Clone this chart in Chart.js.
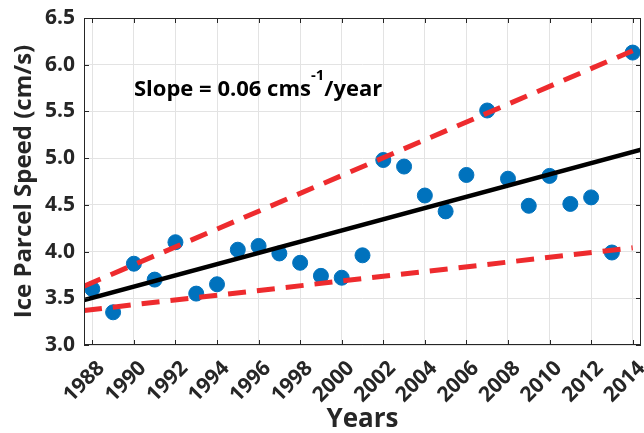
<!DOCTYPE html>
<html>
<head>
<meta charset="utf-8">
<script src="https://cdn.jsdelivr.net/npm/chart.js@4.4.1/dist/chart.umd.min.js"></script>
<style>
  html, body { margin: 0; padding: 0; background: #fff; }
  #wrap { width: 644px; height: 433px; }
</style>
</head>
<body>
<div id="wrap"><canvas id="speedChart" width="644" height="433"></canvas></div>
<script>
  // yearly mean ice parcel speed
  const years = [1988, 1989, 1990, 1991, 1992, 1993, 1994, 1995, 1996, 1997, 1998, 1999, 2000, 2001,
                 2002, 2003, 2004, 2005, 2006, 2007, 2008, 2009, 2010, 2011, 2012, 2013, 2014];
  const speed = [3.60, 3.35, 3.87, 3.70, 4.10, 3.55, 3.65, 4.02, 4.06, 3.98, 3.88, 3.74, 3.72, 3.96,
                 4.98, 4.91, 4.60, 4.43, 4.82, 5.51, 4.78, 4.49, 4.81, 4.51, 4.58, 3.99, 6.13];

  // fitted trend and the two bounding lines (end points)
  const trendX = [1987.6, 2014.4];
  const trendY = [3.48, 5.09];
  const upperX = [1987.6, 2014];
  const upperY = [3.63, 6.15];
  const lowerX = [1987.6, 2014];
  const lowerY = [3.37, 4.04];

  const yearTicks = [1988, 1990, 1992, 1994, 1996, 1998, 2000, 2002, 2004, 2006, 2008, 2010, 2012, 2014];
  const speedTicks = [3.0, 3.5, 4.0, 4.5, 5.0, 5.5, 6.0, 6.5];

  const toPoints = (xs, ys) => xs.map((x, i) => ({ x: x, y: ys[i] }));

  const FONT = "'Open Sans', 'Noto Sans', sans-serif";
  const TEXT = '#262626';

  // no extra room for the end labels, the box sits at fixed edges
  function noPadding(scale) {
    scale.paddingLeft = 0;
    scale.paddingRight = 0;
    scale.paddingTop = 0;
    scale.paddingBottom = 0;
  }

  // box around the plot, inward tick marks, slope note
  const framePlugin = {
    id: 'frame',
    afterDraw(chart) {
      const ctx = chart.ctx;
      const a = chart.chartArea;
      const xs = chart.scales.x, ys = chart.scales.y;
      ctx.save();
      ctx.strokeStyle = TEXT;
      ctx.lineWidth = 1;
      ctx.strokeRect(a.left + 0.5, a.top + 0.5, a.right - a.left - 1, a.bottom - a.top - 1);
      ctx.beginPath();
      yearTicks.forEach(v => {
        const px = Math.round(xs.getPixelForValue(v)) + 0.5;
        ctx.moveTo(px, a.bottom); ctx.lineTo(px, a.bottom - 5);
        ctx.moveTo(px, a.top); ctx.lineTo(px, a.top + 5);
      });
      speedTicks.forEach(v => {
        const py = Math.round(ys.getPixelForValue(v)) + 0.5;
        ctx.moveTo(a.left, py); ctx.lineTo(a.left + 5, py);
        ctx.moveTo(a.right, py); ctx.lineTo(a.right - 5, py);
      });
      ctx.stroke();

      ctx.fillStyle = '#000';
      ctx.textBaseline = 'alphabetic';
      ctx.textAlign = 'left';
      let x = 134, y = 96;
      ctx.font = "bold 22px " + FONT;
      const part1 = 'Slope = 0.06 cms';
      ctx.fillText(part1, x, y);
      x += ctx.measureText(part1).width;
      ctx.font = "bold 15px " + FONT;
      ctx.fillText('-1', x, y - 16);
      x += ctx.measureText('-1').width;
      ctx.font = "bold 22px " + FONT;
      ctx.fillText('/year', x, y);
      ctx.restore();
    }
  };

  new Chart(document.getElementById('speedChart'), {
    type: 'scatter',
    data: {
      datasets: [
        {
          label: 'Speed',
          data: toPoints(years, speed),
          backgroundColor: '#0072BD',
          borderColor: '#0072BD',
          pointRadius: 7.5,
          pointHoverRadius: 7.5,
          clip: 10,
          order: 3
        },
        {
          label: 'Trend',
          data: toPoints(trendX, trendY),
          showLine: true,
          borderColor: '#000',
          borderWidth: 4.5,
          pointRadius: 0,
          order: 2
        },
        {
          label: 'Upper',
          data: toPoints(upperX, upperY),
          showLine: true,
          borderColor: '#EE2B2E',
          borderWidth: 5,
          borderDash: [18, 11],
          pointRadius: 0,
          order: 1
        },
        {
          label: 'Lower',
          data: toPoints(lowerX, lowerY),
          showLine: true,
          borderColor: '#EE2B2E',
          borderWidth: 5,
          borderDash: [18, 11],
          pointRadius: 0,
          order: 1
        }
      ]
    },
    options: {
      responsive: false,
      animation: false,
      layout: { autoPadding: false, padding: { left: 0, right: 3, top: 18, bottom: 0 } },
      plugins: {
        legend: { display: false },
        tooltip: { enabled: false }
      },
      scales: {
        x: {
          type: 'linear',
          min: 1987.6,
          max: 2014.4,
          afterBuildTicks: scale => { scale.ticks = yearTicks.map(v => ({ value: v })); },
          afterFit: scale => { scale.height = 88; noPadding(scale); },
          grid: { color: '#e3e3e3', drawTicks: false },
          border: { display: false },
          ticks: {
            autoSkip: false,
            minRotation: 45,
            maxRotation: 45,
            padding: 11,
            labelOffset: 9,
            color: TEXT,
            font: { family: FONT, size: 21, weight: 'bold' },
            callback: v => String(v)
          },
          title: {
            display: true,
            text: 'Years',
            color: TEXT,
            padding: { top: 0, bottom: 0 },
            font: { family: FONT, size: 26, weight: 'bold', lineHeight: 1.0 }
          }
        },
        y: {
          min: 3,
          max: 6.5,
          afterBuildTicks: scale => { scale.ticks = speedTicks.map(v => ({ value: v })); },
          afterFit: scale => { scale.width = 84; noPadding(scale); },
          grid: { color: '#e3e3e3', drawTicks: false },
          border: { display: false },
          ticks: {
            padding: 9,
            color: TEXT,
            font: { family: FONT, size: 21, weight: 'bold' },
            callback: v => Number(v).toFixed(1)
          },
          title: {
            display: true,
            text: 'Ice Parcel Speed (cm/s)',
            color: TEXT,
            padding: { top: 10, bottom: 0 },
            font: { family: FONT, size: 24, weight: 'bold', lineHeight: 1.2 }
          }
        }
      }
    },
    plugins: [framePlugin]
  });
</script>
</body>
</html>
